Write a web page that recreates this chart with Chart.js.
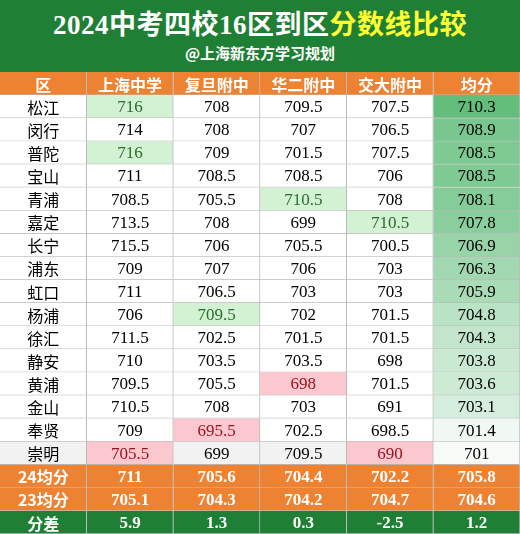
<!DOCTYPE html>
<html><head><meta charset="utf-8">
<script src="https://cdn.jsdelivr.net/npm/chart.js@4/dist/chart.umd.min.js"></script>
<style>
body{margin:0;width:520px;height:534px;background:#fff;overflow:hidden;font-family:"Liberation Serif","Noto Sans CJK SC",serif}
#head{height:72px;background:#1f7f34;color:#fff;text-align:center}
#t1{font-size:27px;font-weight:bold;padding-top:9px;line-height:32px;letter-spacing:0.5px}
#t1 span{color:#ffff33}
#t2{font-size:15px;font-weight:bold;line-height:24px;font-family:"Noto Sans CJK SC",sans-serif}
#wrap{position:relative;width:520px;height:462px}
</style></head><body>
<div id="head"><div id="t1">2024中考四校16区到区<span>分数线比较</span></div><div id="t2">@上海新东方学习规划</div></div>
<div id="wrap"><canvas id="table"></canvas></div>
<script>
const columns = ['区', '上海中学', '复旦附中', '华二附中', '交大附中', '均分'];
const districts = ['松江','闵行','普陀','宝山','青浦','嘉定','长宁','浦东','虹口','杨浦','徐汇','静安','黄浦','金山','奉贤','崇明'];
const shanghai = [716,714,716,711,708.5,713.5,715.5,709,711,706,711.5,710,709.5,710.5,709,705.5];
const fudan = [708,708,709,708.5,705.5,708,706,707,706.5,709.5,702.5,703.5,705.5,708,695.5,699];
const huaer = [709.5,707,701.5,708.5,710.5,699,705.5,706,703,702,701.5,703.5,698,703,702.5,709.5];
const jiaoda = [707.5,706.5,707.5,706,708,710.5,700.5,703,703,701.5,701.5,698,701.5,691,698.5,690];
const average = [710.3,708.9,708.5,708.5,708.1,707.8,706.9,706.3,705.9,704.8,704.3,703.8,703.6,703.1,701.4,701];
const summaryLabels = ['24均分', '23均分', '分差'];
const avg24 = [711, 705.6, 704.4, 702.2, 705.8];
const avg23 = [705.1, 704.3, 704.2, 704.7, 704.6];
const diff = [5.9, 1.3, 0.3, -2.5, 1.2];

const rows = ['header', ...districts, ...summaryLabels];
const ORANGE = '#ee8233', GREEN = '#1f7f34';
const series = [shanghai, fudan, huaer, jiaoda, average];

function avgColor(v) {
  const lo = Math.min(...average), hi = Math.max(...average);
  const t = (v - lo) / (hi - lo);
  const c0 = [246, 251, 248], c1 = [99, 190, 123];
  return 'rgb(' + c0.map((c, i) => Math.round(c + (c1[i] - c) * t)).join(',') + ')';
}

const datasets = columns.map((col, ci) => {
  const texts = [], bg = [], fg = [];
  rows.forEach((r, ri) => {
    if (ri === 0) { texts.push(col); bg.push(ORANGE); fg.push('#fff'); return; }
    const di = ri - 1;
    if (di < districts.length) {
      if (ci === 0) { texts.push(districts[di]); bg.push(di === 15 ? '#f2f2f2' : '#fff'); fg.push('#000'); return; }
      const arr = series[ci - 1], v = arr[di];
      texts.push(String(v));
      if (ci === 5) { bg.push(avgColor(v)); fg.push('#000'); return; }
      if (v === Math.max(...arr)) { bg.push('#d3f1d3'); fg.push('#2a6e2a'); }
      else if (v === Math.min(...arr)) { bg.push('#fcc8d0'); fg.push('#9c1020'); }
      else { bg.push(di === 15 ? '#f2f2f2' : '#fff'); fg.push('#000'); }
      return;
    }
    const si = di - districts.length;
    const sv = [avg24, avg23, diff][si];
    texts.push(ci === 0 ? summaryLabels[si] : String(sv[ci - 1]));
    bg.push(si === 2 ? GREEN : ORANGE); fg.push('#fff');
  });
  return { label: col, data: rows.map(() => 1), texts, fg, backgroundColor: bg,
    borderColor: '#bbb', borderWidth: {right: 1, bottom: 1}, borderSkipped: false,
    barPercentage: 1, categoryPercentage: 1 };
});

const cellText = {
  id: 'cellText',
  afterDatasetsDraw(chart) {
    const ctx = chart.ctx;
    ctx.save();
    ctx.textAlign = 'center'; ctx.textBaseline = 'middle';
    chart.data.datasets.forEach((ds, di) => {
      chart.getDatasetMeta(di).data.forEach((el, i) => {
        const bold = i === 0 || i > districts.length || di === 0 && false;
        const t = ds.texts[i];
        const cjk = /[\u4e00-\u9fff]/.test(t);
        ctx.font = (bold ? 'bold ' : '') + (cjk ? '16px "Noto Sans CJK SC"' : '17px "Liberation Serif"');
        if (!cjk && bold) ctx.font = 'bold 17px "Liberation Serif"';
        ctx.fillStyle = ds.fg[i];
        ctx.fillText(t, (el.x + el.base) / 2, el.y + 1);
      });
    });
    ctx.restore();
  }
};

new Chart(document.getElementById('table'), {
  type: 'bar',
  data: { labels: rows, datasets },
  options: {
    indexAxis: 'y', responsive: true, maintainAspectRatio: false, animation: false,
    layout: { padding: 0 },
    plugins: { legend: { display: false }, tooltip: { enabled: false } },
    scales: {
      x: { stacked: true, display: false, min: 0, max: 6 },
      y: { stacked: true, display: false }
    }
  },
  plugins: [cellText]
});
</script></body></html>
